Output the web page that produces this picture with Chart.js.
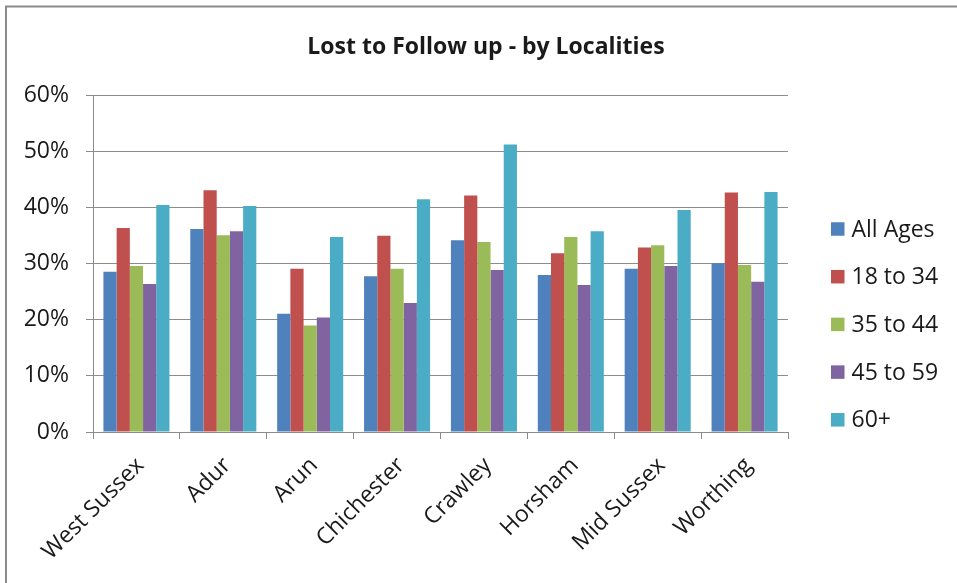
<!DOCTYPE html>
<html>
<head>
<meta charset="utf-8">
<title>Lost to Follow up - by Localities</title>
<script src="https://cdn.jsdelivr.net/npm/chart.js@4.4.1/dist/chart.umd.min.js"></script>
<style>
  html, body { margin: 0; padding: 0; background: #ffffff; overflow: hidden; }
  #wrap { position: relative; width: 957px; height: 583px; }
</style>
</head>
<body>
<div id="wrap"><canvas id="chart" width="957" height="583"></canvas></div>
<script>
// Localities and age bands
const localities = ['West Sussex', 'Adur', 'Arun', 'Chichester', 'Crawley', 'Horsham', 'Mid Sussex', 'Worthing'];
const seriesNames = ['All Ages', '18 to 34', '35 to 44', '45 to 59', '60+'];

// Share lost to follow up (%), one array per age band
const allAges  = [28.6, 36.2, 21.1, 27.8, 34.2, 28.0, 29.1, 30.1];
const age18to34 = [36.4, 43.1, 29.1, 35.0, 42.2, 31.9, 32.9, 42.7];
const age35to44 = [29.6, 35.1, 19.0, 29.1, 33.9, 34.8, 33.3, 29.8];
const age45to59 = [26.4, 35.8, 20.4, 23.0, 28.9, 26.2, 29.6, 26.8];
const age60plus = [40.5, 40.3, 34.8, 41.5, 51.3, 35.8, 39.6, 42.8];

const yTickLabels = ['0%', '10%', '20%', '30%', '40%', '50%', '60%'];

const seriesValues = [allAges, age18to34, age35to44, age45to59, age60plus];
const seriesColours = ['#4F81BD', '#C0504D', '#9BBB59', '#8064A2', '#4BACC6'];

const FONT = '"Open Sans", "Liberation Sans", sans-serif';
const GRID = '#8c8c8c';

// Outer frame of the chart object
const framePlugin = {
  id: 'frame',
  beforeDraw(chart) {
    const ctx = chart.ctx;
    ctx.save();
    ctx.strokeStyle = '#8a8a8a';
    ctx.lineWidth = 2;
    ctx.strokeRect(6, 6.5, 1200, 1200);
    ctx.restore();
  }
};

// Legend column to the right of the plot
const sideLegendPlugin = {
  id: 'sideLegend',
  afterDraw(chart, args, opts) {
    const ctx = chart.ctx;
    ctx.save();
    ctx.font = opts.fontSize + 'px ' + FONT;
    ctx.textBaseline = 'middle';
    ctx.textAlign = 'left';
    chart.data.datasets.forEach((ds, i) => {
      const cy = opts.y + i * opts.step;
      ctx.fillStyle = ds.backgroundColor;
      ctx.fillRect(opts.x, cy - opts.box / 2, opts.box, opts.box);
      ctx.fillStyle = '#1a1a1a';
      ctx.fillText(ds.label, opts.x + opts.box + opts.gap, cy + 1);
    });
    ctx.restore();
  }
};

new Chart(document.getElementById('chart'), {
  type: 'bar',
  data: {
    labels: localities,
    datasets: seriesNames.map((name, i) => ({
      label: name,
      data: seriesValues[i].map(v => v / 100),
      backgroundColor: seriesColours[i],
      borderWidth: 0,
      categoryPercentage: 0.76,
      barPercentage: 1.0
    }))
  },
  options: {
    responsive: false,
    animation: false,
    layout: { padding: { left: 15, right: 0, top: 0, bottom: 0 } },
    plugins: {
      legend: { display: false },
      tooltip: { enabled: false },
      title: {
        display: true,
        text: 'Lost to Follow up - by Localities',
        color: '#1a1a1a',
        font: { family: FONT, size: 23, weight: 'bold' },
        padding: { top: 34, bottom: 34 }
      },
      sideLegend: { x: 831, y: 229, step: 47.7, box: 13.5, gap: 7, fontSize: 23 }
    },
    scales: {
      x: {
        offset: true,
        grid: { display: true, offset: true, drawOnChartArea: false, color: GRID, tickLength: 7, lineWidth: 1 },
        border: { display: true, color: GRID, width: 1 },
        ticks: {
          color: '#1a1a1a',
          font: { family: FONT, size: 23 },
          maxRotation: 45, minRotation: 45, padding: 13, labelOffset: 4
        },
        afterFit(scale) { scale.height = 151; }
      },
      y: {
        min: 0, max: 0.6,
        ticks: {
          stepSize: 0.1,
          color: '#1a1a1a',
          font: { family: FONT, size: 23 },
          padding: 17,
          callback: (v, i) => yTickLabels[i]
        },
        grid: { color: GRID, tickLength: 7, lineWidth: 1 },
        border: { display: true, color: GRID, width: 1 },
        afterFit(scale) { scale.width = 78; }
      },
      // spacer on the right that keeps room for the legend column
      spacer: {
        position: 'right',
        display: true,
        grid: { display: false, drawTicks: false },
        border: { display: false },
        ticks: { display: false },
        afterFit(scale) { scale.width = 169; }
      }
    }
  },
  plugins: [framePlugin, sideLegendPlugin]
});
</script>
</body>
</html>
